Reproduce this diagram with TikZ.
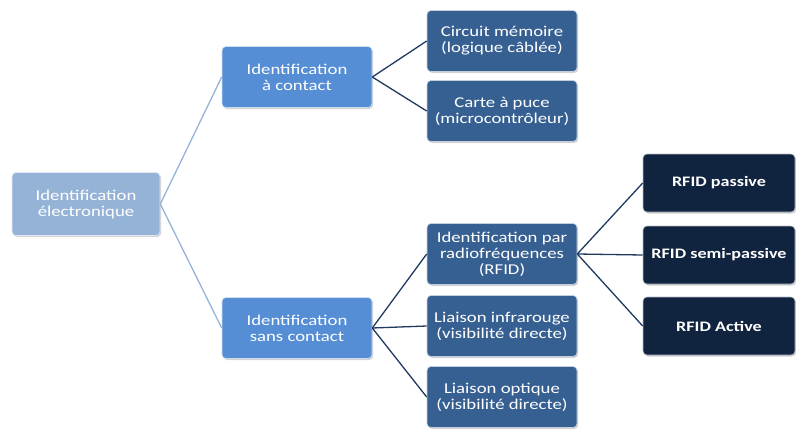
\documentclass[tikz,border=0pt]{standalone}
\usepackage{fontspec}
\setmainfont{Carlito}[FakeStretch=1.25]
\usetikzlibrary{positioning,shadows}

\definecolor{rootblue}{HTML}{95B3D7}
\definecolor{midblue}{HTML}{558ED5}
\definecolor{deepblue}{HTML}{376092}
\definecolor{navy}{HTML}{10233F}
\definecolor{linkdark}{HTML}{1F3A60}

\tikzset{
  box/.style={rectangle, rounded corners=4pt, draw=white!70!#1, line width=0.6pt,
    fill=#1, text=white, align=center, minimum width=150pt, minimum height=61pt,
    inner sep=0pt, font=\fontsize{15}{16}\selectfont,
    drop shadow={shadow xshift=1.2pt, shadow yshift=-1.5pt, opacity=0.35}},
  leaf/.style={box=navy, font=\fontsize{14.5}{16}\selectfont\bfseries},
  link/.style={line width=1.3pt, draw=#1}
}

\begin{document}
\begin{tikzpicture}[node distance=70pt, on grid]
  \useasboundingbox (0,0) rectangle (796pt,-429pt);

  \node[box=rootblue, minimum width=148pt, minimum height=63pt] (root) at (86pt,-204pt) {Identification\\électronique};
  \node[box=midblue] (contact) [above right=127pt and 211pt of root] {Identification\\à contact};
  \node[box=midblue] (sans)    [below right=124pt and 211pt of root] {Identification\\sans contact};

  \node[box=deepblue] (memoire) [above right=36pt and 205pt of contact] {Circuit mémoire\\(logique câblée)};
  \node[box=deepblue] (puce)    [below=70pt of memoire] {Carte à puce\\(microcontrôleur)};

  \node[box=deepblue] (rfid)    [above right=74pt and 205pt of sans] {Identification par\\radiofréquences\\(RFID)};
  \node[box=deepblue] (infra)   [below=72pt of rfid] {Liaison infrarouge\\(visibilité directe)};
  \node[box=deepblue] (optique) [below=71pt of infra] {Liaison optique\\(visibilité directe)};

  \node[leaf, minimum width=152pt, minimum height=58pt] (passive) [above right=71pt and 217pt of rfid] {RFID passive};
  \node[leaf, minimum width=152pt, minimum height=58pt] (semi)    [below=72pt of passive] {RFID semi-passive};
  \node[leaf, minimum width=152pt, minimum height=58pt] (active)  [below=71pt of semi] {RFID Active};

  % liens
  \draw[link=rootblue] (root.east) -- (contact.west);
  \draw[link=rootblue] (root.east) -- (sans.west);
  \draw[link=linkdark] (contact.east) -- (memoire.west);
  \draw[link=linkdark] (contact.east) -- (puce.west);
  \draw[link=linkdark] (sans.east) -- (rfid.west);
  \draw[link=linkdark] (sans.east) -- (infra.west);
  \draw[link=linkdark] (sans.east) -- (optique.west);
  \draw[link=linkdark] (rfid.east) -- (passive.west);
  \draw[link=linkdark] (rfid.east) -- (semi.west);
  \draw[link=linkdark] (rfid.east) -- (active.west);
\end{tikzpicture}
\end{document}
